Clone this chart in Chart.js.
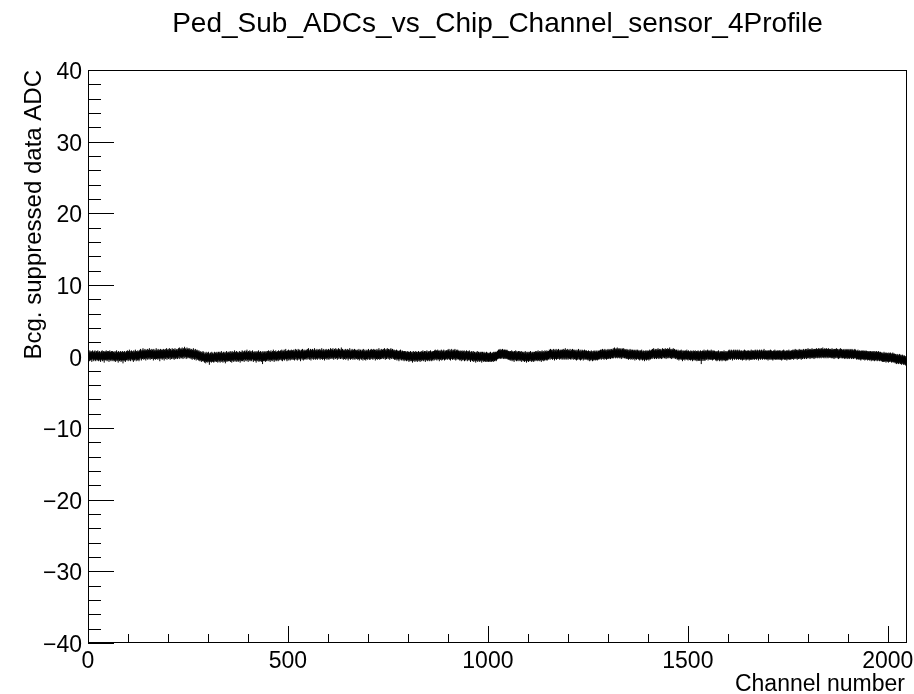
<!DOCTYPE html>
<html>
<head>
<meta charset="utf-8">
<script src="https://cdn.jsdelivr.net/npm/chart.js@4/dist/chart.umd.min.js"></script>
<style>
html,body{margin:0;padding:0;background:#fff;}
#wrap{width:914px;height:694px;position:relative;}
</style>
</head>
<body>
<div id="wrap"><canvas id="c" width="914" height="694"></canvas></div>
<script>
const chartTitle = "Ped_Sub_ADCs_vs_Chip_Channel_sensor_4Profile";
const xAxisTitle = "Channel number";
const yAxisTitle = "Bcg. suppressed data ADC";
const xRange = [0, 2048];
const yRange = [-40, 40];
const xMajorTicks = [0, 500, 1000, 1500, 2000];
const xMinorStep = 100;
const yMajorTicks = [-40, -30, -20, -10, 0, 10, 20, 30, 40];
const yMinorStep = 2;

// profile mean per channel (bin)
const adcValues = [
.2,0,.1,-.1,.3,.1,0,.2,.1,-.2,.2,.3,0,.1,-.1,.2,.1,.3,0,-.1,.2,.1,.2,0,.3,.1,-.1,.1,.2,0,.1,-.2,
0,.2,.1,.3,-.1,.1,.2,0,-.3,.1,.2,.1,0,.3,.1,-.1,.2,0,.1,.2,-.2,.1,.3,0,.1,-.1,.2,.1,0,.2,-.1,.1,
.1,-.1,0,.2,-.2,.1,0,.3,-.1,0,.1,-.3,.2,0,-.1,.1,0,.2,-.2,.1,-.1,0,.2,-.4,.1,0,-.1,.2,.1,-.2,0,.1,
.2,0,.3,.1,-.1,.2,.1,.4,0,.2,-.1,.1,.3,.2,0,.1,.2,-.2,.3,.1,0,.2,.4,.1,-.1,.2,.1,0,.3,.2,.1,-.1,
.3,.1,.4,.5,.2,0,.3,.4,.2,.6,.3,.1,.4,.2,.5,.3,0,.4,.3,.2,.5,.1,.3,.4,.2,.6,.3,.1,.4,.3,.2,.5,
.2,.4,.3,0,.5,.3,.2,.4,.1,.3,.6,.2,.4,.3,.1,.5,.3,.2,.4,-.1,.3,.5,.2,.4,.3,.1,.4,.2,.5,.3,0,.4,
.4,.2,.5,.3,.6,.1,.4,.3,.5,.2,.4,.6,.3,.1,.5,.4,.2,.3,.6,.4,.2,.5,.3,.1,.4,.6,.3,.2,.5,.4,.3,.2,
.5,.3,.6,.4,.7,.2,.5,.4,.6,.3,.5,.7,.4,.2,.6,.5,.3,.8,.4,.5,.6,.2,.4,.7,.5,.3,.6,.4,.5,.3,.6,.4,
.4,.2,.5,.3,.1,.4,.3,.6,.2,.4,.1,.3,.5,.2,0,.3,.4,.1,.3,.2,0,.3,.1,-.1,.2,0,.1,-.2,.1,0,-.1,.2,
-.1,.1,-.2,-.3,0,-.1,-.4,.1,-.2,-.1,0,-.3,-.1,.1,-.2,-.6,-.1,-.2,0,-.1,-.3,.1,-.2,-.1,0,-.2,-.3,-.1,.1,-.2,-.1,0,
0,-.2,.1,-.1,-.3,0,.1,-.2,-.1,.1,-.3,0,-.1,.2,-.2,0,-.1,-.3,.1,0,-.2,-.1,.1,-.4,0,-.1,.2,-.2,0,-.1,.1,-.1,
.1,-.1,0,.2,-.2,.1,0,-.3,.2,0,-.1,.1,-.2,0,.3,-.1,0,.1,-.2,.2,-.1,0,.1,-.2,0,-.1,.2,0,-.3,.1,0,-.1,
.1,.3,-.1,.2,0,.1,-.2,.2,.3,0,.1,-.1,.2,.4,0,.1,-.2,.2,.1,0,.3,-.1,.1,.2,0,-.1,.2,.3,.1,-.2,.1,0,
0,.2,-.1,.1,-.3,0,.2,.1,-.1,0,.3,-.2,.1,0,-.1,.2,.1,-.2,0,.1,-.5,.2,0,-.1,.1,0,.2,-.2,.1,-.1,0,.2,
.2,0,-.1,.3,.1,0,.2,-.2,.1,.3,0,.1,-.1,.2,0,.4,.1,-.2,.2,0,.1,.3,-.1,.1,0,.2,.1,-.1,.3,0,.2,.1,
.1,.3,.2,0,.4,.2,-.1,.3,.2,.1,.4,0,.3,.2,.5,.1,.2,-.1,.3,.2,0,.4,.1,.3,.2,0,.3,.1,.4,.2,.1,.3,
.3,.1,.4,.2,0,.3,.5,.2,.1,.4,.3,0,.2,.5,.3,.1,.4,.2,.3,-.1,.2,.4,.3,.1,.5,.2,0,.3,.4,.2,.1,.3,
.2,.4,.3,.1,.5,.3,.2,.6,.4,.1,.3,.2,.5,0,.3,.4,.2,.5,.3,.1,.4,.2,.6,.3,.1,.4,.2,.3,.5,.1,.3,.4,
.4,.2,.3,.5,.1,.3,.4,.2,.6,.3,.1,.4,.2,.5,.3,0,.3,.4,.2,.5,.3,.1,.4,.3,.2,.5,.1,.3,.4,.2,.6,.3,
.3,.5,.2,.4,.6,.3,.1,.4,.5,.3,.2,.6,.4,.3,.5,.1,.4,.3,.6,.2,.4,.5,.3,.2,.4,.7,.3,.2,.5,.4,.1,.3,
.4,.2,.3,.5,.1,.4,.3,.2,.5,.3,0,.4,.2,.3,.6,.2,.1,.4,.3,.2,.5,.3,.1,.4,.3,.2,.5,.1,.3,.4,.2,.3,
.2,.4,.1,.3,.2,.5,0,.3,.2,.4,.3,.1,.2,.4,.3,0,.5,.2,.3,.1,.4,.2,0,.3,.2,.4,.1,.3,.2,.5,.3,.1,
.3,.1,.4,.2,.5,.3,.2,.4,.1,.3,.5,.2,.4,.3,0,.4,.3,.2,.5,.1,.3,.4,.2,.6,.3,.1,.4,.2,.3,.5,.2,.3,
.4,.3,.5,.2,.4,.6,.3,.1,.4,.5,.2,.3,.6,.4,.2,.5,.3,.4,.1,.5,.3,.6,.4,.2,.3,.5,.4,.2,.3,.4,.1,.3,
.3,.1,.2,.4,0,.2,.3,.1,.2,-.1,.3,.2,.1,.4,.2,0,.1,.3,.2,0,.2,.1,-.1,.2,.1,0,.2,.1,-.1,.1,0,.2,
0,.1,-.2,.1,0,-.1,.2,0,-.1,.1,0,-.3,.1,.2,-.1,0,.1,-.2,0,.2,-.1,.1,0,-.2,.1,0,.2,-.1,0,.1,-.2,.1,
.1,-.1,.2,0,.1,.3,-.1,.1,0,.2,.1,-.2,.2,0,.1,.3,0,-.1,.2,.1,0,.2,-.1,.1,.3,0,.1,-.1,.2,.1,0,.2,
.2,0,.3,.1,.4,.2,.1,.3,0,.2,.4,.1,.2,.3,-.1,.2,.3,.1,.2,.4,0,.3,.1,.2,.2,.4,.1,0,.3,.2,.1,.3,
.3,.2,.1,.4,.2,.3,.5,.1,.2,.4,0,.3,.2,.5,.3,.1,.3,.2,.4,.1,.3,.5,.2,0,.4,.3,.1,.2,.4,.3,.2,.1,
.2,0,.3,.1,.2,-.1,.2,.3,.1,0,.2,.1,.3,-.1,.2,.1,0,.2,.3,.1,-.1,.2,0,.1,.2,.3,0,.1,-.2,.1,0,.2,
.1,-.1,0,.2,-.2,0,.1,-.1,0,-.3,.1,0,-.1,.2,-.2,0,.1,-.1,0,-.2,.1,0,-.1,.1,-.3,0,.1,-.1,0,-.2,.1,-.1,
-.1,0,-.2,-.1,.1,-.2,-.1,0,-.2,-.1,-.2,0,-.1,-.2,.1,-.1,-.2,-.1,0,-.1,0,-.2,.1,0,-.1,.1,0,.1,-.1,0,.1,.2,
.2,.3,.4,.2,.4,.3,.5,.3,.2,.4,.3,.4,.5,.3,.2,.4,.3,.4,.2,.4,.3,.2,.3,.4,.2,.3,.1,.2,.1,.2,.1,0,
.2,0,.1,.3,-.1,.1,.2,0,.1,-.2,.2,.1,0,.3,.1,-.1,.2,0,.1,-.1,.2,.1,0,.2,-.1,.1,0,.2,-.2,.1,0,.1,
0,-.1,.1,-.2,0,.2,-.1,0,-.3,.1,0,-.1,.1,-.2,0,.1,-.1,0,.2,-.1,0,-.2,.1,0,-.1,.1,-.2,0,.1,-.1,0,.2,
.1,0,.2,-.1,.1,.3,0,.1,-.1,.2,.1,0,.2,-.2,.1,.3,0,.1,.2,-.1,.1,0,.3,.1,.2,0,.1,.3,0,.2,.1,.2,
.2,.4,.3,.1,.5,.3,.2,.4,.3,.1,.4,.2,.5,.3,0,.4,.3,.2,.5,.1,.3,.4,.2,.3,.5,.2,.3,.1,.4,.3,.2,.4,
.3,.1,.4,.2,.5,.3,.1,.4,.2,.6,.3,.1,.4,.2,.3,.5,.1,.3,.4,.2,.3,.5,.2,.1,.4,.3,.2,.5,.3,.1,.4,.3,
.2,.4,.1,.3,.2,0,.4,.3,.1,.2,.5,.3,.1,.2,.4,0,.3,.2,.1,.4,.3,.2,0,.3,.2,.4,.1,.3,.2,.1,.3,.2,
.1,.2,0,.3,.1,.2,-.1,.2,.1,0,.3,.1,.2,-.1,.1,.2,0,.3,.1,.2,0,.1,.3,.1,.2,0,.1,.3,.2,.1,.2,.3,
.2,.4,.3,.1,.4,.2,.5,.3,.2,.4,.1,.3,.5,.2,.3,.4,.1,.3,.4,.2,.5,.3,.2,.4,.3,.5,.2,.4,.3,.5,.4,.3,
.4,.6,.3,.5,.7,.4,.5,.3,.6,.4,.5,.7,.3,.5,.4,.6,.5,.3,.6,.4,.5,.2,.4,.6,.5,.3,.4,.6,.4,.3,.5,.4,
.4,.2,.3,.5,.2,.4,.3,.1,.4,.3,.2,.5,.3,.1,.4,.2,.3,.4,.1,.3,.2,.4,.3,0,.3,.2,.4,.1,.3,.2,.4,.3,
.2,.1,.3,0,.2,.3,.1,.2,.4,.1,0,.2,.3,.1,.2,-.1,.2,.3,.1,.2,0,.3,.2,.1,.3,.2,0,.2,.4,.1,.2,.3,
.3,.4,.2,.5,.3,.4,.6,.3,.2,.4,.5,.3,.4,.2,.5,.4,.3,.6,.4,.2,.3,.5,.4,.3,.5,.3,.2,.4,.6,.3,.4,.5,
.5,.3,.4,.6,.4,.2,.5,.4,.3,.6,.4,.5,.3,.4,.7,.4,.3,.5,.4,.2,.5,.4,.3,.6,.4,.3,.5,.3,.4,.2,.3,.4,
.3,.1,.2,.4,.2,0,.3,.2,.1,.3,.2,.4,.1,.2,-.1,.3,.2,.1,.3,.2,0,.2,.3,.1,.2,.4,.1,.2,0,.3,.2,.1,
.1,.2,0,.3,.1,.2,.1,-.1,.2,.3,.1,0,.2,.1,.3,0,.1,.2,-.1,.2,.1,.3,0,.2,.1,0,.2,.3,.1,-.5,.2,.1,
.2,.3,.1,.2,.4,.1,.2,0,.3,.2,.1,.3,.2,.4,0,.2,.3,.1,.2,.3,.1,.2,.4,.1,.2,0,.3,.2,.1,.3,.2,.2,
.1,0,.2,.1,-.1,.2,0,.1,.3,.1,0,-.1,.2,.1,0,.2,.1,-.1,.1,.2,0,.1,.3,0,.1,.2,-.1,.1,0,.2,.1,0,
.2,.3,.1,.4,.2,.3,.1,.2,.4,.3,.2,0,.3,.2,.4,.3,.1,.2,.4,.3,.2,.1,.3,.4,.2,.3,.1,.2,.4,.2,.3,.1,
.2,.1,.3,.2,0,.2,.3,.1,.2,.4,.1,.2,.3,0,.2,.1,.3,.2,.1,.3,.2,0,.2,.3,.1,.2,.4,.1,.2,.3,.1,.2,
.3,.2,.1,.3,.4,.2,.3,.1,.2,.4,.3,.2,0,.3,.2,.4,.3,.1,.2,.3,.4,.2,.1,.3,.2,.3,.5,.2,.1,.3,.2,.3,
.2,.1,.3,.2,0,.3,.2,.1,.3,.2,.4,.1,.2,.3,.1,.2,0,.2,.3,.1,.2,.4,.2,.1,.3,.2,.1,.2,.3,.1,.2,.3,
.1,.3,.2,.1,.3,.2,0,.2,.3,.1,.2,.4,.2,.1,.3,.2,.1,.2,.3,0,.2,.3,.1,.2,.4,.2,.1,.3,.2,.1,.2,.3,
.3,.2,.4,.3,.1,.4,.3,.2,.5,.3,.2,.4,.3,.1,.3,.4,.2,.3,.5,.3,.2,.4,.3,.1,.4,.3,.2,.4,.3,.5,.3,.2,
.4,.3,.5,.4,.2,.5,.4,.3,.6,.4,.3,.5,.4,.2,.4,.5,.3,.4,.6,.4,.3,.5,.4,.2,.5,.4,.3,.5,.4,.6,.4,.3,
.5,.4,.6,.4,.3,.5,.6,.4,.5,.3,.6,.5,.4,.7,.5,.4,.3,.5,.6,.4,.5,.3,.6,.5,.4,.5,.3,.6,.4,.5,.4,.5,
.4,.5,.3,.4,.6,.4,.3,.5,.4,.2,.5,.4,.3,.5,.4,.6,.4,.3,.5,.4,.2,.4,.5,.3,.4,.6,.4,.3,.5,.4,.3,.4,
.3,.4,.5,.3,.2,.4,.3,.5,.4,.3,.2,.4,.5,.3,.4,.2,.3,.5,.4,.3,.4,.2,.5,.3,.4,.3,.2,.4,.3,.5,.3,.4,
.3,.2,.1,.3,.2,.4,.2,.1,.2,.3,.1,.2,0,.3,.2,.1,.2,.3,.2,.1,.3,.2,0,.2,.1,.3,.2,.1,.2,0,.2,.1,
.1,.2,0,.1,.2,.1,-.1,.1,.2,0,.1,.2,0,.1,-.1,.2,.1,0,.1,.2,0,-.1,.1,0,.2,0,.1,-.1,0,.1,0,-.1,
0,-.1,-.2,0,-.1,-.2,.1,-.1,-.2,0,-.1,-.3,-.1,0,-.2,-.1,-.1,-.3,0,-.2,-.1,-.2,0,-.1,-.2,-.3,-.1,-.2,0,-.3,-.2,-.1,
-.2,-.3,-.4,-.2,-.3,-.5,-.3,-.2,-.4,-.3,-.5,-.3,-.4,-.2,-.4,-.5,-.3,-.4,-.6,-.4,-.3,-.5,-.4,-.6,-.5,-.4,-.6,-.5,-.7,-.5,-.6,-.7
];

const points = adcValues.map((v, i) => ({ x: i + 0.5, y: v }));

const FONT = '"Liberation Sans", Arial, Helvetica, sans-serif';

const rootAxes = {
  id: 'rootAxes',
  afterDraw(chart) {
    const ctx = chart.ctx;
    const xs = chart.scales.x, ys = chart.scales.y;
    const a = chart.chartArea;
    ctx.save();
    ctx.strokeStyle = '#000';
    ctx.lineWidth = 1;
    // frame
    ctx.strokeRect(Math.round(a.left) + 0.5, Math.round(a.top) + 0.5,
      Math.round(a.right - a.left) - 1, Math.round(a.bottom - a.top) - 1);
    ctx.beginPath();
    // y ticks (inside, left)
    for (let v = yRange[0]; v <= yRange[1]; v += yMinorStep) {
      const y = Math.round(ys.getPixelForValue(v)) + 0.5;
      const major = yMajorTicks.includes(v);
      const len = major ? 26 : 13;
      ctx.moveTo(a.left, y); ctx.lineTo(a.left + len, y);
    }
    // x ticks (inside, bottom)
    for (let v = xRange[0]; v <= xRange[1]; v += xMinorStep) {
      const x = Math.round(xs.getPixelForValue(v)) + 0.5;
      const major = xMajorTicks.includes(v);
      const len = major ? 17 : 9;
      ctx.moveTo(x, a.bottom); ctx.lineTo(x, a.bottom - len);
    }
    ctx.stroke();

    ctx.fillStyle = '#000';
    ctx.font = '23px ' + FONT;
    // y labels
    ctx.textAlign = 'right';
    ctx.textBaseline = 'alphabetic';
    yMajorTicks.forEach(v => {
      const t = v < 0 ? '\u2212' + Math.abs(v) : String(v);
      ctx.fillText(t, a.left - 6, ys.getPixelForValue(v) + 9);
    });
    // x labels
    ctx.textAlign = 'center';
    xMajorTicks.forEach(v => {
      ctx.fillText(String(v), xs.getPixelForValue(v), 668);
    });
    // x title
    ctx.textAlign = 'right';
    ctx.fillText(xAxisTitle, a.right - 2, 691);
    // y title
    ctx.save();
    ctx.font = '24px ' + FONT;
    ctx.translate(41, a.top);
    ctx.rotate(-Math.PI / 2);
    ctx.textAlign = 'right';
    ctx.textBaseline = 'alphabetic';
    ctx.fillText(yAxisTitle, 0, 0);
    ctx.restore();
    // title
    ctx.font = '28px ' + FONT;
    ctx.textAlign = 'center';
    ctx.fillText(chartTitle, (a.left + a.right) / 2, 32);
    ctx.restore();
  }
};

new Chart(document.getElementById('c'), {
  type: 'scatter',
  data: {
    datasets: [{
      data: points,
      pointStyle: 'cross',
      pointRadius: 4,
      pointBorderWidth: 1,
      borderColor: '#000',
      backgroundColor: '#000',
      showLine: false
    }]
  },
  options: {
    responsive: false,
    animation: false,
    events: [],
    layout: { padding: { left: 88, right: 7, top: 70, bottom: 51 } },
    plugins: { legend: { display: false }, tooltip: { enabled: false }, title: { display: false } },
    scales: {
      x: { type: 'linear', min: xRange[0], max: xRange[1], display: false },
      y: { type: 'linear', min: yRange[0], max: yRange[1], display: false }
    }
  },
  plugins: [rootAxes]
});
</script>
</body>
</html>
